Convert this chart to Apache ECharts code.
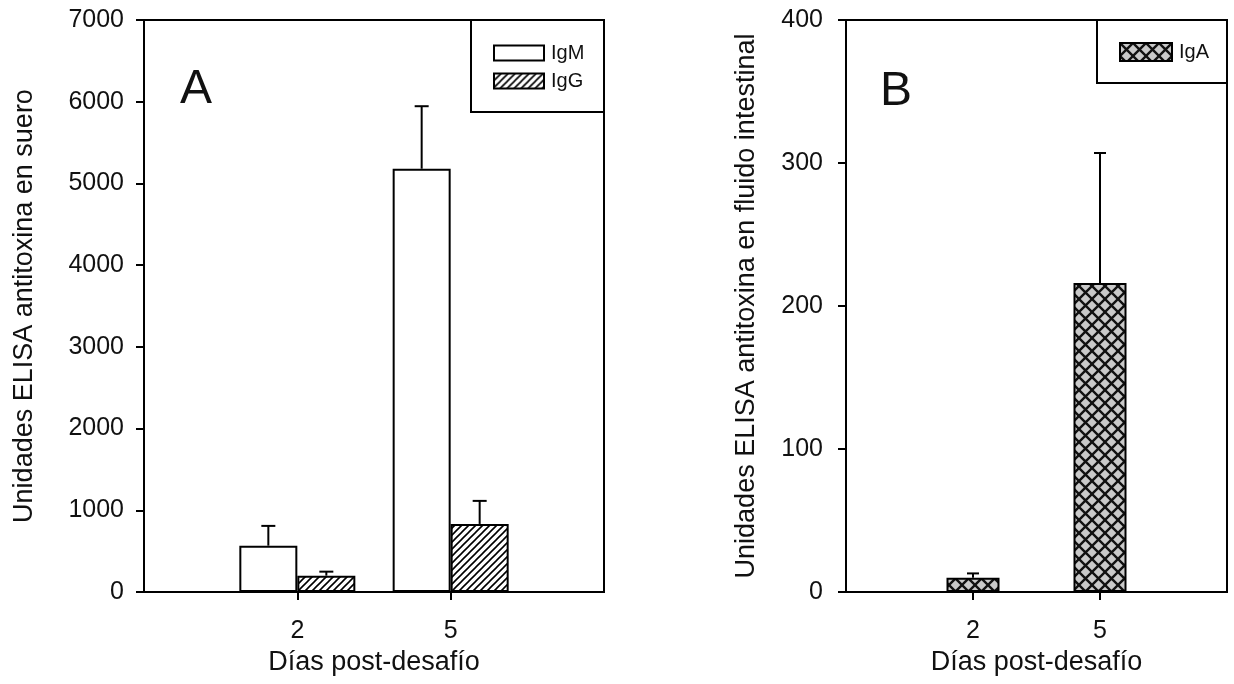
<!DOCTYPE html>
<html>
<head>
<meta charset="utf-8">
<script src="https://cdn.jsdelivr.net/npm/echarts@6/dist/echarts.min.js"></script>
<style>
html,body{margin:0;padding:0;background:#fff;}
#c{width:1234px;height:684px;}
</style>
</head>
<body>
<div id="c"></div>
<script>
// ---- data ----
const days = [2, 5];
const dayLabels = ['2', '5'];
const igmMean = [567, 5180];
const igmErr = [242, 765];
const iggMean = [200, 833];
const iggErr = [49, 282];
const igaMean = [10, 216];
const igaErr = [3, 91];

const FONT = "'Liberation Sans', Arial, sans-serif";

function hatchPattern() {
  const s = 7;
  const cv = document.createElement('canvas');
  cv.width = s; cv.height = s;
  const ctx = cv.getContext('2d');
  ctx.fillStyle = '#fff';
  ctx.fillRect(0, 0, s, s);
  ctx.strokeStyle = '#000';
  ctx.lineWidth = 1.6;
  ctx.beginPath();
  ctx.moveTo(-1, s + 1); ctx.lineTo(s + 1, -1);
  ctx.moveTo(-1, 1); ctx.lineTo(1, -1);
  ctx.moveTo(s - 1, s + 1); ctx.lineTo(s + 1, s - 1);
  ctx.stroke();
  return cv;
}
function crossPattern() {
  const s = 13;
  const cv = document.createElement('canvas');
  cv.width = s; cv.height = s;
  const ctx = cv.getContext('2d');
  ctx.fillStyle = '#c9c9c9';
  ctx.fillRect(0, 0, s, s);
  ctx.strokeStyle = '#111';
  ctx.lineWidth = 2.4;
  ctx.beginPath();
  ctx.moveTo(-1, -1); ctx.lineTo(s + 1, s + 1);
  ctx.moveTo(-1, s + 1); ctx.lineTo(s + 1, -1);
  ctx.stroke();
  return cv;
}
const hatchFill = { image: hatchPattern(), repeat: 'repeat' };
const crossFill = { image: crossPattern(), repeat: 'repeat' };

function errSeries(name, means, errs, xi, yi, offset, capHalf) {
  return {
    type: 'custom',
    name: name + ' err',
    xAxisIndex: xi, yAxisIndex: yi,
    z: 5,
    silent: true,
    data: days.map((d, i) => [d, means[i], errs[i]]),
    encode: { x: 0, y: 1 },
    renderItem: function (params, api) {
      const x = api.value(0), y = api.value(1), e = api.value(2);
      const p0 = api.coord([x, y]);
      const p1 = api.coord([x, y + e]);
      const cx = p0[0] + offset;
      return {
        type: 'group',
        children: [
          { type: 'line', shape: { x1: cx, y1: p0[1], x2: cx, y2: p1[1] }, style: { stroke: '#000', lineWidth: 2 } },
          { type: 'line', shape: { x1: cx - capHalf, y1: p1[1], x2: cx + capHalf, y2: p1[1] }, style: { stroke: '#000', lineWidth: 2 } }
        ]
      };
    }
  };
}

function xAxisDef(gi) {
  return {
    type: 'value', gridIndex: gi, min: -1, max: 8,
    name: 'Días post-desafío', nameLocation: 'middle', nameGap: 55,
    nameTextStyle: { fontFamily: FONT, fontSize: 27, color: '#111' },
    axisLine: { show: true, onZero: false, lineStyle: { color: '#000', width: 2 } },
    axisTick: { show: true, inside: false, length: 8, lineStyle: { color: '#000', width: 2 }, customValues: days },
    axisLabel: { show: true, margin: 27, fontFamily: FONT, fontSize: 25, color: '#111', customValues: days,
      formatter: v => dayLabels[days.indexOf(v)] },
    splitLine: { show: false }
  };
}
function yAxisDef(gi, max, interval, name, gap, margin) {
  return {
    type: 'value', gridIndex: gi, min: 0, max: max, interval: interval,
    name: name, nameLocation: 'middle', nameGap: gap,
    nameTextStyle: { fontFamily: FONT, fontSize: 27, color: '#111' },
    axisLine: { show: true, onZero: false, lineStyle: { color: '#000', width: 2 } },
    axisTick: { show: true, length: 8, lineStyle: { color: '#000', width: 2 } },
    axisLabel: { margin: margin, fontFamily: FONT, fontSize: 25, color: '#111', formatter: v => String(v) },
    splitLine: { show: false }
  };
}

const chart = echarts.init(document.getElementById('c'), null, { renderer: 'canvas' });
chart.setOption({
  animation: false,
  backgroundColor: '#fff',
  grid: [
    { left: 144, top: 20, width: 460, height: 572, show: true, borderColor: '#000', borderWidth: 2, backgroundColor: 'transparent' },
    { left: 846, top: 20, width: 381, height: 572, show: true, borderColor: '#000', borderWidth: 2, backgroundColor: 'transparent' }
  ],
  xAxis: [xAxisDef(0), xAxisDef(1)],
  yAxis: [
    yAxisDef(0, 7000, 1000, 'Unidades ELISA antitoxina en suero', 106, 20),
    yAxisDef(1, 400, 100, 'Unidades ELISA antitoxina en fluido intestinal', 86, 23)
  ],
  legend: [
    {
      data: ['IgM', 'IgG'], orient: 'vertical', left: 488, top: 38,
      itemWidth: 50, itemHeight: 15, itemGap: 8, icon: 'rect',
      textStyle: { fontFamily: FONT, fontSize: 20, color: '#111', padding: [0, 0, 0, 2] },
      selectedMode: false
    },
    {
      data: ['IgA'], orient: 'vertical', left: 1114, top: 37,
      itemWidth: 52, itemHeight: 18, icon: 'rect',
      textStyle: { fontFamily: FONT, fontSize: 20, color: '#111', padding: [0, 0, 0, 2] },
      selectedMode: false
    }
  ],
  graphic: [
    { type: 'rect', shape: { x: 471, y: 20, width: 133, height: 92 }, style: { fill: 'none', stroke: '#000', lineWidth: 2 }, z: 10 },
    { type: 'rect', shape: { x: 1097, y: 20, width: 130, height: 63 }, style: { fill: 'none', stroke: '#000', lineWidth: 2 }, z: 10 },
    { type: 'text', x: 196, y: 90, style: { text: 'A', font: '48px ' + FONT, fill: '#111', textAlign: 'center', textVerticalAlign: 'middle' }, z: 10 },
    { type: 'text', x: 896, y: 92, style: { text: 'B', font: '48px ' + FONT, fill: '#111', textAlign: 'center', textVerticalAlign: 'middle' }, z: 10 }
  ],
  series: [
    {
      type: 'bar', name: 'IgM', xAxisIndex: 0, yAxisIndex: 0,
      data: days.map((d, i) => [d, igmMean[i]]),
      barWidth: 58, barGap: '0%',
      itemStyle: { color: '#fff', borderColor: '#000', borderWidth: 2 }
    },
    {
      type: 'bar', name: 'IgG', xAxisIndex: 0, yAxisIndex: 0,
      data: days.map((d, i) => [d, iggMean[i]]),
      barWidth: 58, barGap: '0%',
      itemStyle: { color: hatchFill, borderColor: '#000', borderWidth: 2 }
    },
    {
      type: 'bar', name: 'IgA', xAxisIndex: 1, yAxisIndex: 1,
      data: days.map((d, i) => [d, igaMean[i]]),
      barWidth: 53,
      itemStyle: { color: crossFill, borderColor: '#000', borderWidth: 2 }
    },
    errSeries('IgM', igmMean, igmErr, 0, 0, -29, 7),
    errSeries('IgG', iggMean, iggErr, 0, 0, 29, 7),
    errSeries('IgA', igaMean, igaErr, 1, 1, 0, 6)
  ]
});
</script>
</body>
</html>
